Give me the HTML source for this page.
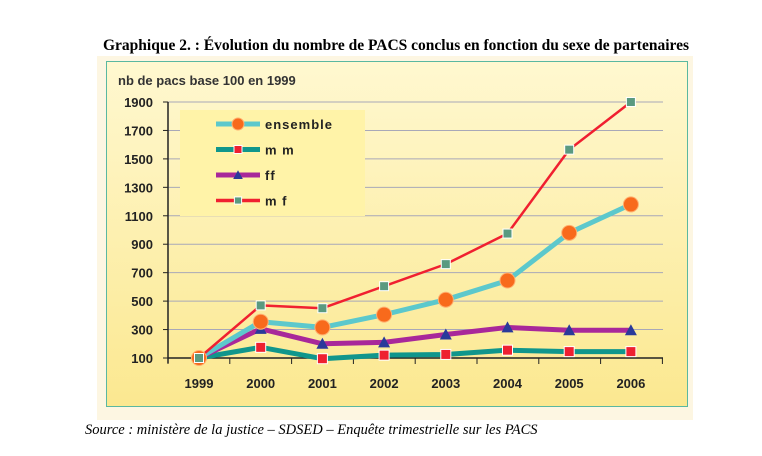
<!DOCTYPE html>
<html><head><meta charset="utf-8"><style>
body{margin:0;width:762px;height:456px;background:#fff;position:relative;overflow:hidden;font-family:"Liberation Sans",sans-serif}
#title{position:absolute;left:0;width:792px;top:37px;text-align:center;font:bold 15.5px "Liberation Serif",serif;white-space:nowrap}
#src{position:absolute;left:85px;top:422px;font:italic 14.5px "Liberation Serif",serif;white-space:nowrap}
</style></head><body>
<div id="title">Graphique 2. : Évolution du nombre de PACS conclus en fonction du sexe de partenaires</div>
<svg id="c" width="762" height="456" style="position:absolute;left:0;top:0">
<defs><linearGradient id="g" x1="0" y1="0" x2="0" y2="1"><stop offset="0" stop-color="#fff8d0"/><stop offset="1" stop-color="#fbe890"/></linearGradient></defs>
<rect x="97" y="56" width="596" height="364" fill="#fdf6e2"/>
<rect x="106.5" y="61.5" width="581" height="345" fill="url(#g)" stroke="#5ab8a0"/>
<text x="118" y="85" font-size="13" font-weight="bold" fill="#333">nb de pacs base 100 en 1999</text>
<g id="grid"></g><g id="axes"></g><g id="series"></g>
<rect x="180" y="110" width="185" height="106" fill="#fff3a8"/>
<g id="legend"></g>
</svg>
<div id="src">Source : ministère de la justice – SDSED – Enquête trimestrielle sur les PACS</div>
<script>
const years=["1999","2000","2001","2002","2003","2004","2005","2006"];
const yTicks=[100,300,500,700,900,1100,1300,1500,1700,1900];
const ensemble=[100,355,315,405,510,645,980,1180];
const mm=[100,175,95,120,125,155,145,145];
const ff=[100,305,200,210,265,315,295,295];
const mf=[100,470,450,605,760,975,1565,1900];
const NS="http://www.w3.org/2000/svg";
function yS(v){return 358-(v-100)*(256/1800);}
function xS(i){return 199+i*61.7;}
function mk(t,a,p){const e=document.createElementNS(NS,t);for(const k in a)e.setAttribute(k,a[k]);(p||document.getElementById('series')).appendChild(e);return e;}
const grid=document.getElementById('grid'),axes=document.getElementById('axes');
yTicks.forEach(v=>{const y=yS(v);
 if(v>100){const l=mk('line',{x1:168,x2:663,y1:y,y2:y,stroke:'#a8a8b8','stroke-width':1},grid);}
 mk('line',{x1:163,x2:168,y1:y,y2:y,stroke:'#222'},axes);
 const t=mk('text',{x:153,y:y+5,'text-anchor':'end','font-size':13,'font-weight':'bold',fill:'#222'},axes);t.textContent=v;
 });
mk('line',{x1:168,x2:168,y1:yS(1900),y2:363,stroke:'#222','stroke-width':1.5},axes);
mk('line',{x1:168,x2:663,y1:358,y2:358,stroke:'#222','stroke-width':1.5},axes);
for(let i=0;i<=8;i++){const x=168+i*61.8;mk('line',{x1:x,x2:x,y1:358,y2:364,stroke:'#222'},axes);}
years.forEach((y,i)=>{const t=mk('text',{x:xS(i),y:388,'text-anchor':'middle','font-size':13,'font-weight':'bold',fill:'#222'},axes);t.textContent=y;
 });
function line(d,c,w,name){const p=mk('polyline',{points:d.map((v,i)=>xS(i)+','+yS(v)).join(' '),fill:'none',stroke:c,'stroke-width':w,'stroke-linejoin':'round'});
 }
function marker(kind,x,y,name,g,s){s=s||1;let e;
 if(kind==='circle')e=mk('circle',{cx:x,cy:y,r:7.5*s,fill:'#f86a1c',stroke:'#ffb070','stroke-width':1},g);
 else if(kind==='sq')e=mk('rect',{x:x-5*s,y:y-5*s,width:10*s,height:10*s,fill:'#ee2030',stroke:'#fff','stroke-width':1},g);
 else if(kind==='tri')e=mk('polygon',{points:`${x},${y-6*s} ${x+6*s},${y+5*s} ${x-6*s},${y+5*s}`,fill:'#2a3a9a'},g);
 else e=mk('rect',{x:x-4.5*s,y:y-4.5*s,width:9*s,height:9*s,fill:'#5a9a80',stroke:'#fff','stroke-width':1},g);
 }
line(mm,'#10968c',5,'mm');line(ff,'#a8289a',5,'ff');line(ensemble,'#5cc8cc',5,'ensemble');line(mf,'#f02030',2.5,'mf');
mm.forEach((v,i)=>marker('sq',xS(i),yS(v),'mm'));
ff.forEach((v,i)=>marker('tri',xS(i),yS(v),'ff'));
ensemble.forEach((v,i)=>marker('circle',xS(i),yS(v),'ensemble'));
mf.forEach((v,i)=>marker('mf',xS(i),yS(v),'mf'));
const lg=document.getElementById('legend');
[['ensemble','#5cc8cc','circle'],['mm','#10968c','sq'],['ff','#a8289a','tri'],['mf','#f02030','mf']].forEach((e,i)=>{
 const y=124+i*25.5;mk('line',{x1:216,x2:260,y1:y,y2:y,stroke:e[1],'stroke-width':e[0]==='mf'?3.5:5},lg);
 marker(e[2],238,y,'legend-'+e[0],lg,0.8);
 const t=mk('text',{x:265,y:y+5,'font-size':13,'font-weight':'bold',fill:'#222','letter-spacing':'1'},lg);t.textContent=e[0]==='mm'?'m m':e[0]==='mf'?'m f':e[0];
 });
</script>
</body></html>
